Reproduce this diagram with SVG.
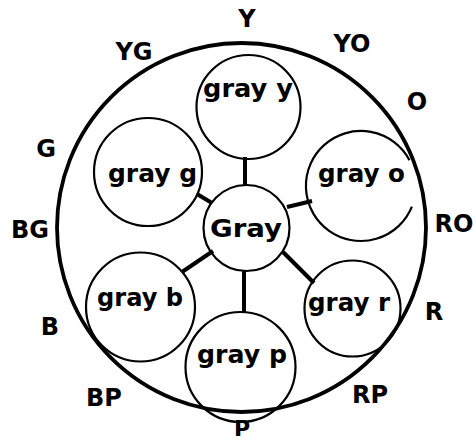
<svg xmlns="http://www.w3.org/2000/svg" width="473" height="440" viewBox="0 0 473 440">
<style>
.lbl{font-family:"DejaVu Sans","Liberation Sans",sans-serif;font-weight:bold;font-size:24px;fill:#000;text-anchor:middle}
.node{fill:none;stroke:#000;stroke-width:2.2}
.outer{fill:none;stroke:#000;stroke-width:3.8}
.spoke{stroke:#000;stroke-width:4;stroke-linecap:butt}
</style>
<rect width="473" height="440" fill="#fff"/>
<g id="wheel">
<circle class="outer" cx="241.5" cy="227.5" r="184.5"/>
</g>
<g id="connectors">
<line class="spoke" x1="245" y1="157" x2="245" y2="186"/>
<line class="spoke" x1="197" y1="194" x2="212" y2="203"/>
<line class="spoke" x1="287" y1="207" x2="312" y2="201"/>
<line class="spoke" x1="182" y1="272" x2="213" y2="251"/>
<line class="spoke" x1="244" y1="271" x2="244" y2="312"/>
<line class="spoke" x1="283" y1="252" x2="314" y2="283"/>
</g>
<g id="gray">
<circle class="node" cx="246.5" cy="228" r="43"/>
<text class="lbl" x="246" y="237" textLength="72" lengthAdjust="spacingAndGlyphs">Gray</text>
</g>
<g id="gray-y">
<circle class="node" cx="248.5" cy="107" r="52"/>
<text class="lbl" x="248" y="97" textLength="90" lengthAdjust="spacingAndGlyphs">gray y</text>
</g>
<g id="gray-g">
<circle class="node" cx="148" cy="172" r="54"/>
<text class="lbl" x="152.5" y="182" textLength="89" lengthAdjust="spacingAndGlyphs">gray g</text>
</g>
<g id="gray-o">
<path class="node" d="M411.9,206.6 A55,55 0 1 1 409.5,160.2"/>
<text class="lbl" x="361.5" y="182" textLength="87" lengthAdjust="spacingAndGlyphs">gray o</text>
</g>
<g id="gray-b">
<circle class="node" cx="140.5" cy="307" r="54.5"/>
<text class="lbl" x="140" y="306" textLength="86" lengthAdjust="spacingAndGlyphs">gray b</text>
</g>
<g id="gray-r">
<circle class="node" cx="352.5" cy="308.5" r="48"/>
<text class="lbl" x="349" y="311" textLength="82" lengthAdjust="spacingAndGlyphs">gray r</text>
</g>
<g id="gray-p">
<circle class="node" cx="240.5" cy="367" r="55"/>
<text class="lbl" x="242" y="363" textLength="90" lengthAdjust="spacingAndGlyphs">gray p</text>
</g>
<g id="hue-labels">
<text class="lbl" x="247" y="27">Y</text>
<text class="lbl" x="134" y="60">YG</text>
<text class="lbl" x="352" y="52">YO</text>
<text class="lbl" x="417" y="110">O</text>
<text class="lbl" x="46" y="157">G</text>
<text class="lbl" x="30" y="238">BG</text>
<text class="lbl" x="454" y="232">RO</text>
<text class="lbl" x="50" y="335">B</text>
<text class="lbl" x="434" y="320">R</text>
<text class="lbl" x="104" y="406">BP</text>
<text class="lbl" x="370" y="403">RP</text>
<text class="lbl" x="242" y="436" style="font-size:22px">P</text>
</g>
</svg>
